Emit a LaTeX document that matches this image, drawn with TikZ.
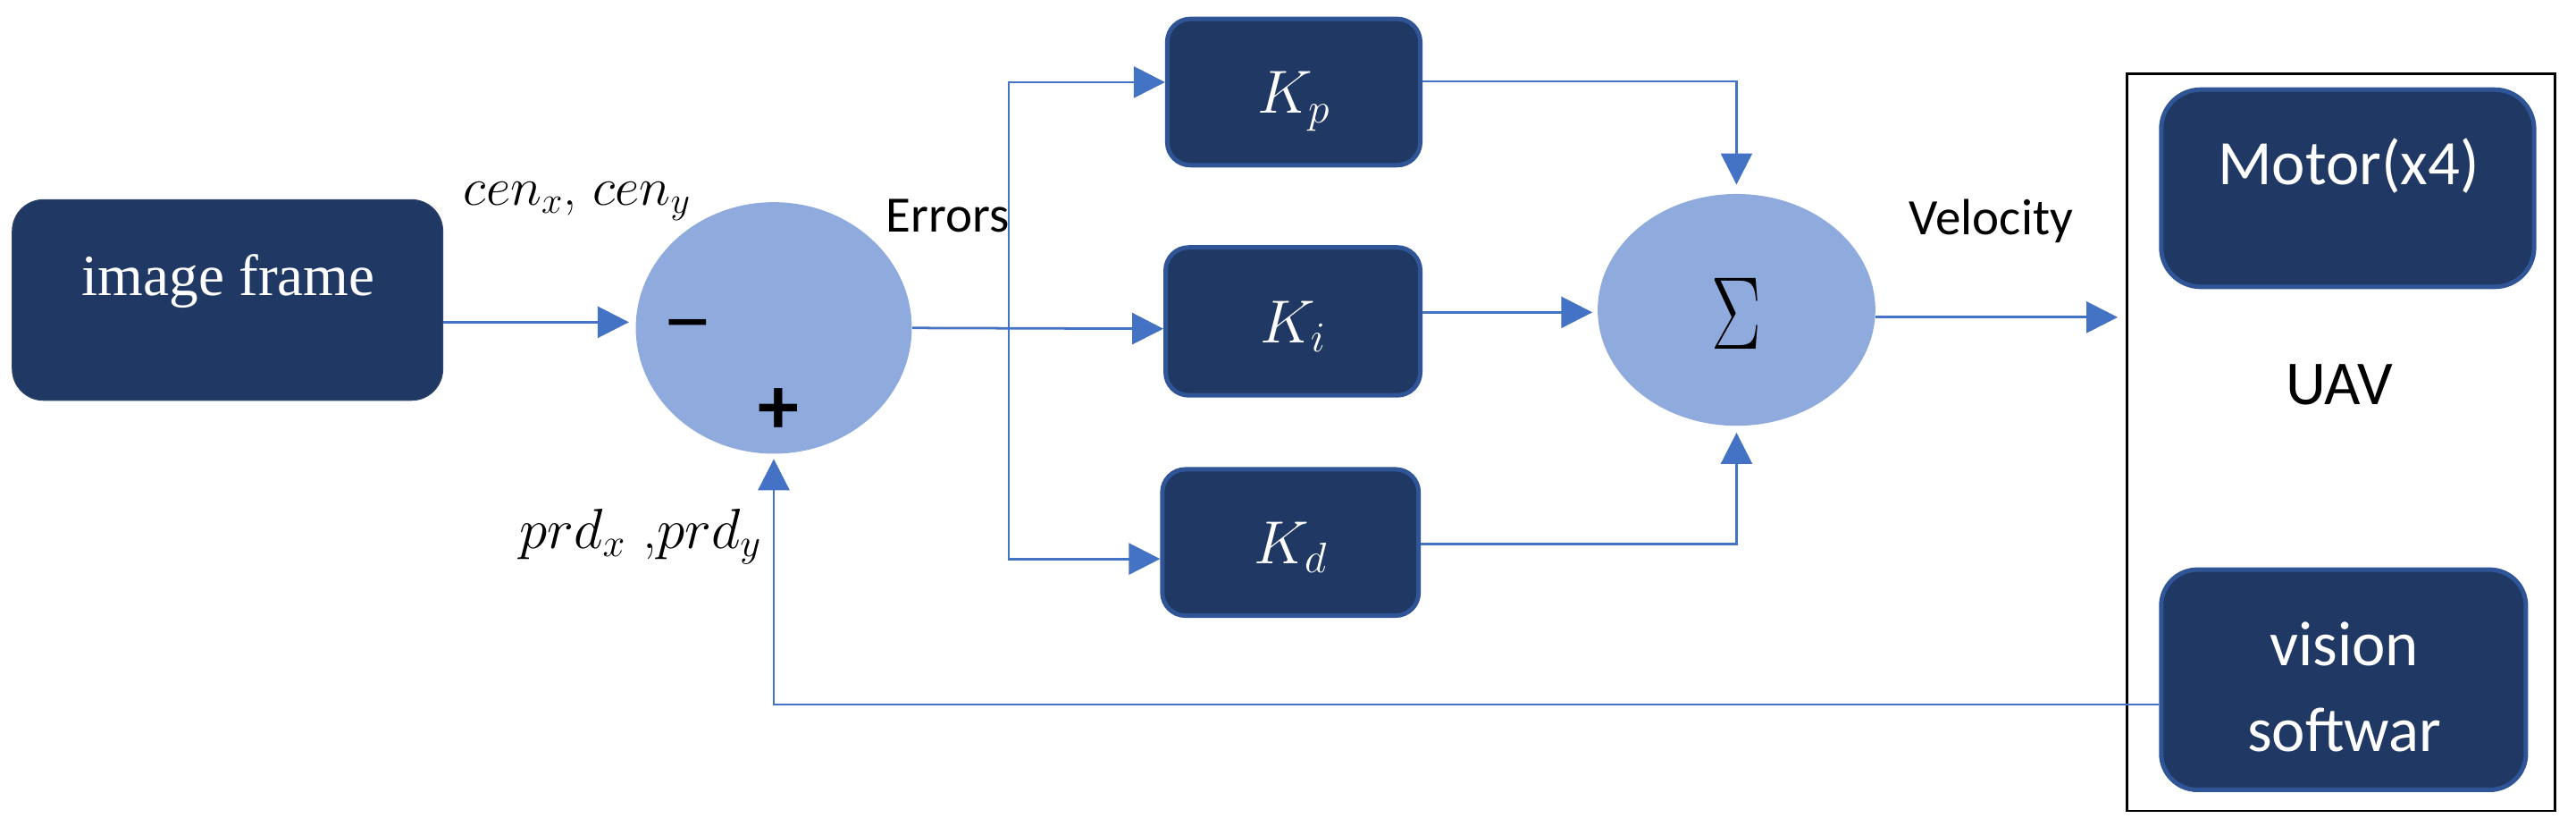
\RequirePackage{fix-cm}
\documentclass[tikz,border=0pt]{standalone}
\usepackage{fontspec}
\newfontfamily\calib{Carlito}
\newfontfamily\tnr{Liberation Serif}
\usetikzlibrary{arrows.meta,shapes.geometric}
\definecolor{navy}{HTML}{203864}
\definecolor{navyedge}{HTML}{2F5597}
\definecolor{ellfill}{HTML}{8FAADC}
\definecolor{arrblue}{HTML}{4472C4}
\begin{document}
\begin{tikzpicture}[x=1pt,y=-1pt,
  darkbox/.style={draw=navyedge, line width=2.7pt, fill=navy, rounded corners=14pt, inner sep=0pt},
  sumnode/.style={ellipse, fill=ellfill, inner sep=0pt},
  arr/.style={draw=arrblue, line width=1.5pt, -{Triangle[length=19pt,width=19pt]}},
  lbl/.style={inner sep=0pt, anchor=base},
  sanslbl/.style={lbl, font=\calib\fontsize{31}{37}\selectfont},
  boxtext/.style={lbl, text=white, font=\calib\fontsize{38.5}{46}\selectfont},
  ktext/.style={lbl, text=white, font=\fontsize{37}{44}\selectfont},
  signtext/.style={lbl, font=\calib\bfseries\fontsize{40}{48}\selectfont},
]
\useasboundingbox (0,0) rectangle (1568,503);

% boxes
\node[darkbox, draw=navy!85!gray, line width=0.6pt, rounded corners=19pt, minimum width=262pt, minimum height=122pt] (frame) at (138.5,182.5) {};
\node[darkbox, minimum width=154pt, minimum height=89pt] (Kp) at (787.5,56) {};
\node[darkbox, minimum width=155pt, minimum height=90pt] (Ki) at (787,195.5) {};
\node[darkbox, minimum width=156pt, minimum height=89pt] (Kd) at (785.5,330) {};
\node[draw=black, line width=1.5pt, minimum width=260.5pt, minimum height=448.5pt, inner sep=0pt] (uav) at (1425,269) {};
\node[darkbox, rounded corners=24pt, minimum width=227pt, minimum height=120pt] (motor) at (1429,114.5) {};
\node[darkbox, rounded corners=22pt, minimum width=222pt, minimum height=134pt] (vis) at (1426.5,413.5) {};
\node[sumnode, minimum width=168pt, minimum height=153pt] (e1) at (471,199.5) {};
\node[sumnode, minimum width=169pt, minimum height=141pt] (sig) at (1057,188.5) {};

% connectors
\coordinate (br) at (614,200);
\draw[arr, shorten >=4pt] (frame.east |- 0,196) -- (e1.west |- 0,196);
\draw[arr] (e1.east) -- (Ki.west |- 0,200);
\draw[arr] (br) |- (Kp.west |- 0,50);
\draw[arr] (br) |- (Kd.west |- 0,340);
\draw[arr, shorten >=5.5pt] (Kp.east |- 0,49.5) -| (sig.north);
\draw[arr, shorten >=3pt] (Ki.east |- 0,190) -- (sig.west |- 0,190);
\draw[arr, shorten >=4pt] (Kd.east |- 0,331) -| (sig.south);
\draw[arr, shorten >=5pt] (sig.east |- 0,193) -- (uav.west |- 0,193);
\draw[arr, shorten >=3pt] (vis.west |- 0,428.6) -| (e1.south);

% texts
\node[lbl, text=white, font=\tnr\fontsize{35.5}{40}\selectfont] (tframe) at (139,180) {image frame};
\node[ktext] (tkp) at (787.5,69) {$K_p$};
\node[ktext] (tki) at (787,208.5) {$K_i$};
\node[ktext] (tkd) at (785.5,343) {$K_d$};
\node[boxtext] (tmotor) at (1429.6,112.4) {Motor(x4)};
\node[boxtext] (tvis1) at (1427,405) {vision};
\node[boxtext] (tvis2) at (1427,457) {softwar};
\node[lbl, font=\calib\fontsize{38}{46}\selectfont] (tuav) at (1424,246) {UAV};
\node[sanslbl, anchor=base west] (terr) at (539,141) {Errors};
\node[sanslbl, anchor=base west] (tvel) at (1162,143) {Velocity};
\node[lbl, anchor=base west, font=\fontsize{32.5}{39}\selectfont] (tcen) at (282,125) {$cen_x$, $cen_y$};
\node[lbl, anchor=base west, font=\fontsize{34.5}{41}\selectfont] (tprd) at (316,333.6) {$prd_x$ ,$prd_y$};
\node[signtext] (tminus) at (418.5,207.5) {\scalebox{1.6}[1]{–}};
\node[signtext, font=\calib\bfseries\fontsize{50}{58}\selectfont] (tplus) at (474,264) {+};
\node[inner sep=0pt, font=\fontsize{63}{70}\selectfont] (tsig) at (1057,191) {\scalebox{0.72}[1]{$\Sigma$}};
\end{tikzpicture}
\end{document}
